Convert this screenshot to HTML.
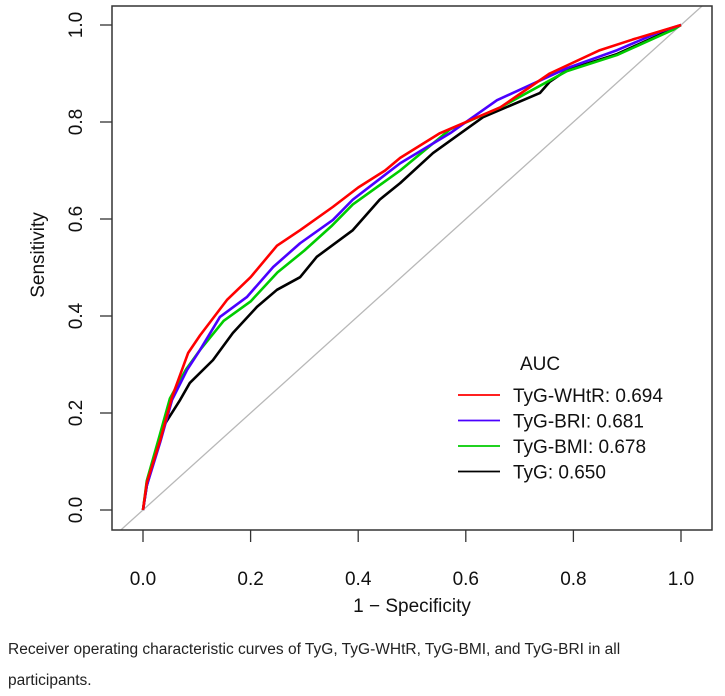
<!DOCTYPE html>
<html><head><meta charset="utf-8"><style>
body{margin:0;background:#fff;width:725px;height:691px;overflow:hidden;font-family:"Liberation Sans",sans-serif}
svg text{font-family:"Liberation Sans",sans-serif}
.cap{position:absolute;left:8px;top:634px;width:700px;font-size:15.5px;line-height:31px;color:#222}
</style></head><body>
<svg id="chart" width="725" height="630" style="position:absolute;left:0;top:0"></svg>
<div class="cap">Receiver operating characteristic curves of TyG, TyG-WHtR, TyG-BMI, and TyG-BRI in all participants.</div>
<script>
const ticks=[0,0.2,0.4,0.6,0.8,1.0];
const tickLabels=["0.0","0.2","0.4","0.6","0.8","1.0"];
const seriesNames=["TyG-WHtR: 0.694","TyG-BRI: 0.681","TyG-BMI: 0.678","TyG: 0.650"];
const seriesColors=["#ff0000","#4b00ff","#00cc00","#000000"];
const whtrX=[0,0.007,0.032,0.054,0.084,0.106,0.156,0.2,0.249,0.292,0.353,0.4,0.45,0.478,0.552,0.664,0.756,0.849,0.91,1];
const whtrY=[0,0.056,0.144,0.233,0.324,0.36,0.433,0.48,0.545,0.577,0.625,0.665,0.70,0.726,0.777,0.83,0.90,0.948,0.97,1];
const briX=[0,0.007,0.032,0.054,0.082,0.106,0.143,0.193,0.242,0.292,0.353,0.39,0.478,0.571,0.658,0.788,0.881,0.961,1];
const briY=[0,0.05,0.14,0.227,0.289,0.33,0.398,0.439,0.501,0.55,0.598,0.64,0.715,0.777,0.845,0.911,0.948,0.986,1];
const bmiX=[0,0.007,0.03,0.05,0.08,0.106,0.15,0.2,0.25,0.3,0.35,0.39,0.478,0.571,0.664,0.788,0.881,0.985,1];
const bmiY=[0,0.06,0.15,0.23,0.29,0.33,0.39,0.43,0.49,0.535,0.585,0.63,0.70,0.785,0.83,0.905,0.938,0.99,1];
const tygX=[0,0.007,0.037,0.069,0.087,0.13,0.167,0.212,0.249,0.292,0.323,0.39,0.44,0.478,0.539,0.632,0.738,0.756,0.788,0.881,1];
const tygY=[0,0.05,0.171,0.227,0.262,0.309,0.365,0.419,0.454,0.48,0.522,0.577,0.64,0.674,0.736,0.81,0.86,0.883,0.907,0.94,1];
const sx=v=>143+v*538, sy=v=>510-v*485;
const svg=document.getElementById('chart');
const NS='http://www.w3.org/2000/svg';
function mk(t,a){const e=document.createElementNS(NS,t);for(const k in a)e.setAttribute(k,a[k]);svg.appendChild(e);return e;}
// clip
const defs=mk('defs',{});
const cp=document.createElementNS(NS,'clipPath');cp.setAttribute('id','c');
const cr=document.createElementNS(NS,'rect');cr.setAttribute('x',112);cr.setAttribute('y',6);cr.setAttribute('width',600);cr.setAttribute('height',524);
cp.appendChild(cr);defs.appendChild(cp);
let d=mk('line',{x1:sx(-0.1),y1:sy(-0.1),x2:sx(1.1),y2:sy(1.1),stroke:'#b8b8b8','stroke-width':1.3,'clip-path':'url(#c)'});


const box=mk('rect',{x:112,y:6,width:600,height:524,fill:'none',stroke:'#333','stroke-width':1.5});


ticks.forEach((t,i)=>{
 let l=mk('line',{x1:sx(t),y1:530,x2:sx(t),y2:542,stroke:'#333','stroke-width':1.3});
 
 
 let tx=mk('text',{x:sx(t),y:585,'text-anchor':'middle','font-size':19,fill:'#111'});tx.textContent=tickLabels[i];
 
 
 let l2=mk('line',{x1:100,y1:sy(t),x2:112,y2:sy(t),stroke:'#333','stroke-width':1.3});
 
 
 let ty=mk('text',{x:0,y:0,'text-anchor':'middle','font-size':19,fill:'#111',transform:`translate(82,${sy(t)}) rotate(-90)`});ty.textContent=tickLabels[i];
 
 
});
let xt=mk('text',{x:412,y:612,'text-anchor':'middle','font-size':19,fill:'#111'});xt.textContent='1 − Specificity';


let yt=mk('text',{x:0,y:0,'text-anchor':'middle','font-size':19,fill:'#111',transform:'translate(44,255) rotate(-90)'});yt.textContent='Sensitivity';


const xs=[whtrX,briX,bmiX,tygX], ys=[whtrY,briY,bmiY,tygY];
const names=['curve-tyg-whtr','curve-tyg-bri','curve-tyg-bmi','curve-tyg'];
[3,2,1,0].forEach(i=>{
 const pts=xs[i].map((x,j)=>sx(x)+','+sy(ys[i][j])).join(' ');
 const p=mk('polyline',{points:pts,fill:'none',stroke:seriesColors[i],'stroke-width':2.6,'stroke-linejoin':'round'});
 
 
});
let auc=mk('text',{x:520,y:370,'font-size':19,fill:'#111'});auc.textContent='AUC';


seriesNames.forEach((n,i)=>{
 const y=395+i*25.5;
 let l=mk('line',{x1:458,y1:y,x2:500,y2:y,stroke:seriesColors[i],'stroke-width':1.8});
 
 
 let t=mk('text',{x:513,y:y+7,'font-size':19,fill:'#111'});t.textContent=n;
 
 
});
</script>
</body></html>
